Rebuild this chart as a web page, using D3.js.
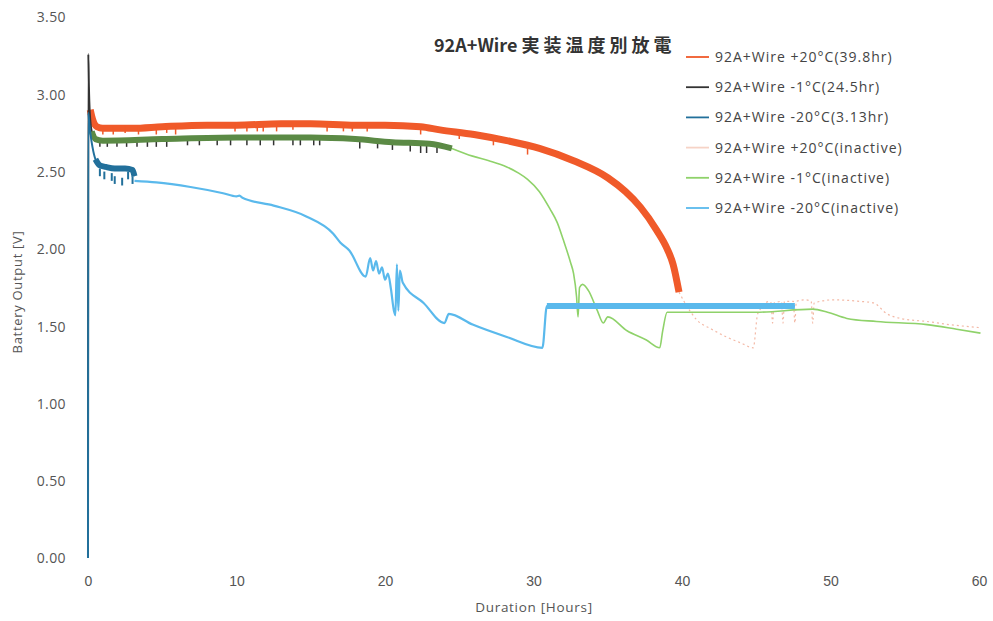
<!DOCTYPE html>
<html><head><meta charset="utf-8">
<script src="https://cdn.jsdelivr.net/npm/d3@7/dist/d3.min.js"></script>
<style>
html,body{margin:0;padding:0;background:#fff;}
svg{display:block;}
</style></head>
<body>
<svg id="chart" width="993" height="621"></svg>
<script>
// ---------- data (hours, volts) ----------
const titleLatin = "92A+Wire";
const titleCJK = "実装温度別放電";
const xTicks = [0, 10, 20, 30, 40, 50, 60];
const yTicks = [0, 0.5, 1.0, 1.5, 2.0, 2.5, 3.0, 3.5];
const seriesNames = [
  "92A+Wire +20°C(39.8hr)",
  "92A+Wire -1°C(24.5hr)",
  "92A+Wire -20°C(3.13hr)",
  "92A+Wire +20°C(inactive)",
  "92A+Wire -1°C(inactive)",
  "92A+Wire -20°C(inactive)"
];
const seriesColors = ["#f05a2a", "#333333", "#22709b", "#f6d3c6", "#8fd26a", "#5ab9ec"];

const plus20Active = [[0.15,2.90],[0.3,2.84],[0.6,2.79],[1,2.78],[3,2.78],[5,2.79],[8,2.80],[10,2.80],[13,2.81],[15,2.81],[18,2.80],[20,2.80],[22.4,2.79],[23.7,2.77],[26,2.74],[28.2,2.70],[30.4,2.65],[32.7,2.57],[35.0,2.46],[36.2,2.37],[37.2,2.27],[38.3,2.12],[39.0,2.00],[39.4,1.90],[39.8,1.72]];
const plus20Spikes = [[1.0,2.74],[1.7,2.74],[2.5,2.75],[3.4,2.74],[4.6,2.74],[5.3,2.75],[5.9,2.74],[9.9,2.76],[10.7,2.76],[11.4,2.76],[11.8,2.76],[12.7,2.76],[13.8,2.77],[16.1,2.76],[17.2,2.76],[17.8,2.76],[18.8,2.76],[22.4,2.74],[25.0,2.71],[27.3,2.67],[29.6,2.61]];

const minus1Active = [[0,0],[0.02,3.26],[0.06,3.05],[0.12,2.88],[0.25,2.76],[0.5,2.71],[1,2.70],[5,2.71],[10,2.72],[15,2.72],[18,2.71],[20.5,2.69],[23,2.68],[24.5,2.65]];
const minus1Spikes = [[0.8,2.66],[1.3,2.66],[1.95,2.66],[2.6,2.66],[3.3,2.66],[4.0,2.66],[4.6,2.66],[5.3,2.66],[6.7,2.67],[7.5,2.67],[8.7,2.67],[9.6,2.67],[10.7,2.67],[11.6,2.67],[12.5,2.67],[13.8,2.67],[14.3,2.67],[15.2,2.67],[15.6,2.67],[18.3,2.65],[19.5,2.65],[20.5,2.64],[21.7,2.63],[22.4,2.62],[22.8,2.62],[23.5,2.62]];

const minus20Active = [[0,0],[0.02,2.88],[0.1,2.80],[0.2,2.72],[0.3,2.66],[0.5,2.58],[0.8,2.54],[1.2,2.53],[1.8,2.52],[2.5,2.52],[3.0,2.51],[3.13,2.47]];
const minus20Spikes = [[0.8,2.47],[1.1,2.45],[1.6,2.44],[1.8,2.42],[2.3,2.41],[2.7,2.45],[3.0,2.42]];

const plus20Inactive = [[39.8,1.72],[40.2,1.65],[41.0,1.54],[42.0,1.48],[43.0,1.43],[44.0,1.39],[44.8,1.36],[45.1,1.58],[45.9,1.66],[46.0,1.65],[46.1,1.52],[46.2,1.65],[46.7,1.66],[46.8,1.52],[46.9,1.66],[47.5,1.66],[47.6,1.52],[47.7,1.66],[48.3,1.67],[48.7,1.66],[48.8,1.52],[48.9,1.65],[50.2,1.67],[52.0,1.66],[52.9,1.65],[53.8,1.58],[54.7,1.55],[56.5,1.53],[58.0,1.51],[60.1,1.49]];
const minus1Inactive = [[24.5,2.65],[25.9,2.60],[27,2.57],[28.2,2.53],[29.0,2.49],[29.6,2.45],[30.4,2.37],[31.1,2.26],[31.6,2.17],[32.0,2.06],[32.5,1.91],[32.7,1.84],[32.9,1.69],[33.0,1.56],[33.1,1.75],[33.3,1.77],[33.7,1.73],[34.3,1.60],[34.7,1.52],[35.0,1.56],[36.3,1.47],[37.6,1.41],[38.5,1.36],[38.7,1.47],[39.0,1.59],[42,1.59],[45,1.59],[48.8,1.61],[49.8,1.59],[51.1,1.55],[53.1,1.53],[56.5,1.51],[58.5,1.48],[60.1,1.455]];
const minus20Inactive = [[3.13,2.44],[4.6,2.43],[6.9,2.40],[9.1,2.36],[10.0,2.34],[10.2,2.345],[10.4,2.33],[12.5,2.28],[14.7,2.21],[16.5,2.10],[17.0,2.04],[17.6,1.99],[18.7,1.82],[19.0,1.94],[19.2,1.86],[19.4,1.92],[19.6,1.84],[19.8,1.88],[20.0,1.80],[20.2,1.84],[20.4,1.74],[20.6,1.60],[20.7,1.57],[20.8,1.90],[20.9,1.60],[21.0,1.86],[21.2,1.78],[22.6,1.65],[24.0,1.52],[24.3,1.58],[25.9,1.51],[28.2,1.43],[30.6,1.36],[30.9,1.63],[33,1.63],[36,1.63],[40,1.63],[44,1.63],[47.6,1.63]];

// ---------- layout ----------
const svg = d3.select("#chart");
const x = d3.scaleLinear().domain([0, 60]).range([88, 979]);
const y = d3.scaleLinear().domain([0, 3.5]).range([558, 17]);
const line = d3.line().x(d => x(d[0])).y(d => y(d[1])).curve(d3.curveMonotoneX);
const labelFont = "'Open Sans', Arial, sans-serif";
const tickFont = "'Liberation Sans', Arial, sans-serif";

// axes (labels only)
const yAxis = d3.axisLeft(y).tickValues(yTicks).tickFormat(d3.format(".2f")).tickSize(0).tickPadding(0);
svg.append("g").attr("transform", "translate(66,0)").call(yAxis)
  .call(g => g.select(".domain").remove())
  .selectAll("text").attr("font-family", labelFont).attr("font-size", 14).attr("fill", "#555")
  .attr("letter-spacing", 0.4).attr("dy", "0.35em");
const xAxis = d3.axisBottom(x).tickValues(xTicks).tickFormat(d3.format("d")).tickSize(0).tickPadding(0);
svg.append("g").attr("transform", "translate(0,576)").call(xAxis)
  .call(g => g.select(".domain").remove())
  .selectAll("text").attr("font-family", tickFont).attr("font-size", 14).attr("fill", "#555");

svg.append("text").attr("x", 534).attr("y", 612).attr("text-anchor", "middle")
  .attr("font-family", labelFont).attr("font-size", 13.5).attr("letter-spacing", 0.7)
  .attr("fill", "#555").text("Duration [Hours]");
svg.append("text").attr("transform", "translate(22,292) rotate(-90)").attr("text-anchor", "middle")
  .attr("font-family", labelFont).attr("font-size", 13).attr("letter-spacing", 0.7)
  .attr("fill", "#555").text("Battery Output [V]");

// ---------- series ----------
const plot = svg.append("g");
function spikes(data, color, w) {
  plot.append("g").selectAll("line").data(data).join("line")
    .attr("x1", d => x(d[0])).attr("x2", d => x(d[0]))
    .attr("y1", d => y(d[1] + 0.05)).attr("y2", d => y(d[1]))
    .attr("stroke", color).attr("stroke-width", w);
}
// +20 active (orange band)
plot.append("path").datum(plus20Active).attr("d", line).attr("fill", "none")
  .attr("stroke", seriesColors[0]).attr("stroke-width", 7).attr("stroke-linejoin", "round");
spikes(plus20Spikes, seriesColors[0], 1.5);
// -1 active (dark thin spike + olive band)
plot.append("path").datum(minus1Active).attr("d", line).attr("fill", "none")
  .attr("stroke", seriesColors[1]).attr("stroke-width", 2);
spikes(minus1Spikes, seriesColors[1], 1.5);
plot.append("path").datum(minus1Active.filter(d => d[0] >= 0.2)).attr("d", line).attr("fill", "none")
  .attr("stroke", "#5b8a45").attr("stroke-width", 6).attr("stroke-linejoin", "round");
// -20 active (dark blue)
plot.append("path").datum(minus20Active).attr("d", line).attr("fill", "none")
  .attr("stroke", seriesColors[2]).attr("stroke-width", 2);
plot.append("path").datum(minus20Active.filter(d => d[0] >= 0.4)).attr("d", line).attr("fill", "none")
  .attr("stroke", seriesColors[2]).attr("stroke-width", 6).attr("stroke-linejoin", "round");
spikes(minus20Spikes, seriesColors[2], 2);
// inactive
plot.append("path").datum(plus20Inactive).attr("d", line).attr("fill", "none")
  .attr("stroke", "#f0a890").attr("stroke-width", 1.2).attr("stroke-dasharray", "2,3").attr("opacity", 0.8);
plot.append("path").datum(minus1Inactive).attr("d", line).attr("fill", "none")
  .attr("stroke", seriesColors[4]).attr("stroke-width", 1.6);
plot.append("path").datum(minus20Inactive).attr("d", line).attr("fill", "none")
  .attr("stroke", seriesColors[5]).attr("stroke-width", 2.2).attr("stroke-linejoin", "round");
plot.append("path").datum(minus20Inactive.filter(d => d[0] >= 30.9)).attr("d", line).attr("fill", "none")
  .attr("stroke", seriesColors[5]).attr("stroke-width", 6);

// ---------- title ----------
const title = svg.append("text").attr("x", 434).attr("y", 52)
  .attr("font-family", "'Noto Sans CJK JP', 'Noto Sans', sans-serif").attr("font-weight", "bold")
  .attr("font-size", 18).attr("fill", "#333");
title.append("tspan").text(titleLatin + " ");
title.append("tspan").attr("letter-spacing", 4).text(titleCJK);

// ---------- legend ----------
const legend = svg.append("g").attr("transform", "translate(686,57)");
const items = legend.selectAll("g").data(seriesNames).join("g")
  .attr("transform", (d, i) => `translate(0,${i * 30.2})`);
items.append("line").attr("x1", 0).attr("x2", 23).attr("y1", 0).attr("y2", 0)
  .attr("stroke", (d, i) => seriesColors[i]).attr("stroke-width", 1.8);
items.append("text").attr("x", 29).attr("y", 0).attr("dy", "0.35em")
  .attr("font-family", labelFont).attr("font-size", 14).attr("letter-spacing", 1)
  .attr("fill", "#444").text(d => d);
</script>
</body></html>
